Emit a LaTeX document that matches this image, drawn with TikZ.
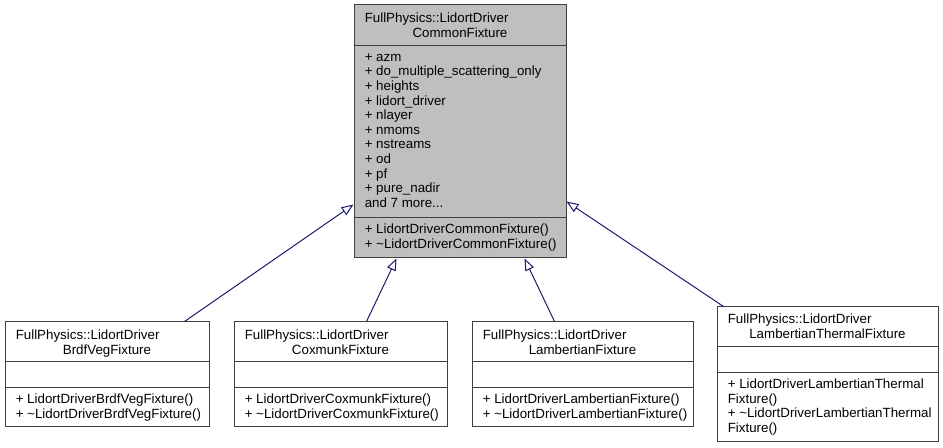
\documentclass[tikz,border=0pt]{standalone}
\usepackage{fontspec}
\setmainfont{Liberation Sans}
\usetikzlibrary{arrows.meta,calc,fit}
\definecolor{edgeblue}{HTML}{191970}
\definecolor{boxgray}{HTML}{BFBFBF}
\definecolor{linegray}{HTML}{404040}
\tikzset{
  cls/.style={draw=linegray, line width=0.75pt, inner sep=0pt},
  rule/.style={draw=linegray, line width=0.75pt},
  txt/.style={inner sep=0pt, font=\fontsize{10}{11}\selectfont},
  inherit/.style={draw=edgeblue, line width=0.75pt, -{Triangle[open,length=9pt,width=7pt]}}
}
\begin{document}
\begin{tikzpicture}[x=0.75pt,y=-0.75pt]
\useasboundingbox (0,0) rectangle (943,448);

\node[cls, fill=boxgray, fit={(354,5) (566,258)}] (base) {};
\node[cls, fit={(5,322) (209,427)}] (brdf) {};
\node[cls, fit={(234,322) (447,427)}] (cox) {};
\node[cls, fit={(472,322) (693,427)}] (lamb) {};
\node[cls, fit={(717,307) (938,442)}] (therm) {};

\path[rule] ($(base.north west)+(0,41)$) -- ($(base.north east)+(0,41)$);
\path[rule] ($(base.north west)+(0,213)$) -- ($(base.north east)+(0,213)$);
\foreach \b in {brdf,cox,lamb} {
  \path[rule] ($(\b.north west)+(0,40)$) -- ($(\b.north east)+(0,40)$);
  \path[rule] ($(\b.north west)+(0,66)$) -- ($(\b.north east)+(0,66)$);
}
\path[rule] ($(therm.north west)+(0,40)$) -- ($(therm.north east)+(0,40)$);
\path[rule] ($(therm.north west)+(0,66)$) -- ($(therm.north east)+(0,66)$);

\node[txt, anchor=base west] (base-t1) at ($(base.north west)+(11,18)$) {FullPhysics::LidortDriver};
\node[txt, anchor=base] (base-t2) at ($(base.north)+(0,33)$) {CommonFixture};
\foreach \a [count=\i from 0] in {+ azm, + do\_multiple\_scattering\_only, + heights, + lidort\_driver,
  + nlayer, + nmoms, + nstreams, + od, + pf, + pure\_nadir}
  \node[txt, anchor=base west] (base-a\i) at ($(base.north west)+(11,56.8+14.6*\i)$) {\a};
\node[txt, anchor=base west] (base-more) at ($(base.north west)+(11,202.8)$) {and 7 more...};
\node[txt, anchor=base west] (base-m1) at ($(base.north west)+(11,229)$) {+ LidortDriverCommonFixture()};
\node[txt, anchor=base west] (base-m2) at ($(base.north west)+(11,243.6)$) {+ \textasciitilde LidortDriverCommonFixture()};

\node[txt, anchor=base west] (brdf-t1) at ($(brdf.north west)+(11,18)$) {FullPhysics::LidortDriver};
\node[txt, anchor=base] (brdf-t2) at ($(brdf.north)+(0,32.6)$) {BrdfVegFixture};
\node[txt, anchor=base west] (brdf-m1) at ($(brdf.north west)+(11,82)$) {+ LidortDriverBrdfVegFixture()};
\node[txt, anchor=base west] (brdf-m2) at ($(brdf.north west)+(11,96.6)$) {+ \textasciitilde LidortDriverBrdfVegFixture()};

\node[txt, anchor=base west] (cox-t1) at ($(cox.north west)+(11,18)$) {FullPhysics::LidortDriver};
\node[txt, anchor=base] (cox-t2) at ($(cox.north)+(0,32.6)$) {CoxmunkFixture};
\node[txt, anchor=base west] (cox-m1) at ($(cox.north west)+(11,82)$) {+ LidortDriverCoxmunkFixture()};
\node[txt, anchor=base west] (cox-m2) at ($(cox.north west)+(11,96.6)$) {+ \textasciitilde LidortDriverCoxmunkFixture()};

\node[txt, anchor=base west] (lamb-t1) at ($(lamb.north west)+(11,18)$) {FullPhysics::LidortDriver};
\node[txt, anchor=base] (lamb-t2) at ($(lamb.north)+(0,32.6)$) {LambertianFixture};
\node[txt, anchor=base west] (lamb-m1) at ($(lamb.north west)+(11,82)$) {+ LidortDriverLambertianFixture()};
\node[txt, anchor=base west] (lamb-m2) at ($(lamb.north west)+(11,96.6)$) {+ \textasciitilde LidortDriverLambertianFixture()};

\node[txt, anchor=base west] (therm-t1) at ($(therm.north west)+(11,17.5)$) {FullPhysics::LidortDriver};
\node[txt, anchor=base] (therm-t2) at ($(therm.north)+(0,32.1)$) {LambertianThermalFixture};
\node[txt, anchor=base west] (therm-m1) at ($(therm.north west)+(11,82)$) {+ LidortDriverLambertianThermal};
\node[txt, anchor=base west] (therm-m2) at ($(therm.north west)+(11,96.6)$) {Fixture()};
\node[txt, anchor=base west] (therm-m3) at ($(therm.north west)+(11,111.2)$) {+ \textasciitilde LidortDriverLambertianThermal};
\node[txt, anchor=base west] (therm-m4) at ($(therm.north west)+(11,125.8)$) {Fixture()};

\path[inherit] ($(brdf.north west)+(180,0)$) -- ($(base.north west)+(0,200)$);
\path[inherit] ($(cox.north west)+(133,0)$) -- ($(base.south west)+(43,0)$);
\path[inherit] ($(lamb.north west)+(83,0)$) -- ($(base.south west)+(171,0)$);
\path[inherit] ($(therm.north west)+(7,0)$) -- ($(base.north east)+(0,197)$);
\end{tikzpicture}
\end{document}
